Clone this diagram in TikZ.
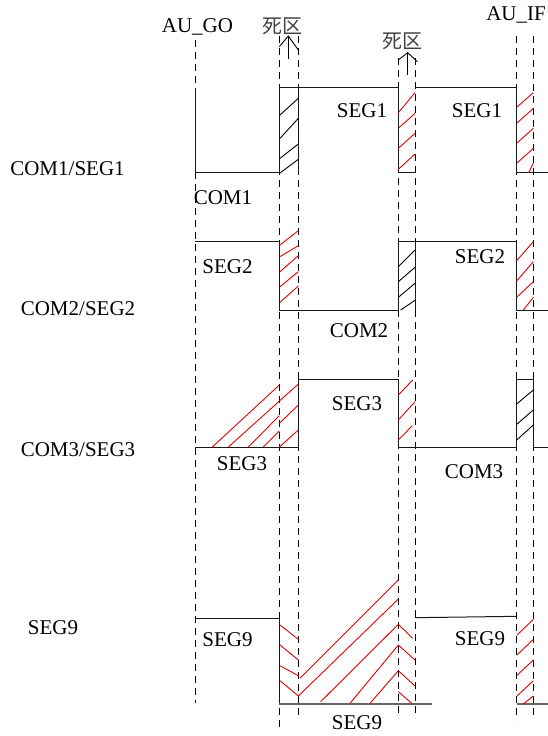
\documentclass[tikz,border=0pt]{standalone}
\usepackage{fontspec}
\setmainfont{Liberation Serif}
\newfontfamily\cjkfont{Noto Sans CJK SC}
\tikzset{
  lbl/.style={inner sep=0pt,font=\fontsize{21}{22}\selectfont},
  cjk/.style={inner sep=0pt,text=black!75,font=\cjkfont\fontsize{20}{20}\selectfont},
  guide/.style={black,line width=0.9pt,dash pattern=on 7pt off 5pt},
  wave/.style={black!90,line width=1pt,line join=miter},
  rail/.style={black!60,line width=1.6pt},
  hr/.style={red!90!black,line width=0.9pt},
  hk/.style={black,line width=0.9pt},
  arrowline/.style={black,line width=0.9pt},
  rowa/.style={shift={(180pt,0pt)},x=0.33333pt,y=-0.33333pt},
  rowb/.style={shift={(180pt,-220pt)},x=0.33333pt,y=-0.33333pt},
  rowc/.style={shift={(180pt,-370pt)},x=0.33333pt,y=-0.33333pt},
  rowd/.style={shift={(180pt,-570pt)},x=0.33333pt,y=-0.33333pt},
}
\begin{document}
\begin{tikzpicture}[x=1pt,y=-1pt]
\useasboundingbox (0,0) rectangle (548,736);
% guides
\draw[guide] (195.3,40) -- (195.3,703);
\draw[guide] (279.5,36) -- (279.5,728);
\draw[guide] (298.3,36) -- (298.3,718);
\draw[guide] (398.3,58) -- (398.3,718);
\draw[guide] (415,58) -- (415,718);
\draw[guide] (516.7,36) -- (516.7,720);
\draw[guide] (533.7,36) -- (533.7,718);
% row 1
\begin{scope}[rowa]
\draw[wave] (46,263) -- (46,519) -- (298,519) -- (298,263) -- (655,263) -- (655,519) -- (705,519);
\draw[wave] (705,263) -- (1010,263) -- (1010,519) -- (1104,519);
\draw[wave] (355,263) -- (355,519);
\foreach \a/\b in {519/478,475/432,415/355,345/295} \draw[hk] (300,\a) -- (355,\b);
\foreach \a/\b in {338/278,385/340,445/400,508/462} \draw[hr] (655,\a) -- (705,\b);
\foreach \a/\b in {322/278,370/325,430/385,490/445} \draw[hr] (1010,\a) -- (1060,\b);
\draw[hr] (1045,519) -- (1060,490);
\draw[arrowline] (325,178) -- (325,108);
\draw[arrowline] (298,140) -- (325,108) -- (355,150);
\draw[arrowline] (683,225) -- (683,158);
\draw[arrowline] (655,180) -- (683,158) -- (712,185);
\end{scope}
% row 2
\begin{scope}[rowb]
\draw[wave] (46,65) -- (298,65) -- (298,270) -- (655,270) -- (655,65) -- (1010,65) -- (1010,270) -- (1104,270);
\draw[wave] (705,65) -- (705,270);
\foreach \a/\b in {75/32,110/77,155/107,200/155,247/198} \draw[hr] (300,\a) -- (355,\b);
\foreach \a/\b in {140/90,185/142,232/190} \draw[hk] (655,\a) -- (705,\b);
\draw[hk] (662,270) -- (705,241);
\foreach \a/\b in {122/65,183/125,232/185} \draw[hr] (1010,\a) -- (1060,\b);
\draw[hr] (1030,270) -- (1060,232);
\end{scope}
% row 3
\begin{scope}[rowc]
\draw[wave] (46,231) -- (355,231) -- (355,27) -- (655,27) -- (655,231) -- (1010,231) -- (1010,8);
\draw[wave] (1010,27) -- (1060,27) -- (1060,231) -- (1104,231);
\draw[hr] (97,231) -- (298,45);
\draw[hr] (145,231) -- (355,42);
\draw[hr] (205,231) -- (298,137);
\draw[hr] (250,231) -- (298,183);
\draw[hr] (298,160) -- (355,105);
\draw[hr] (298,231) -- (355,180);
\draw[hr] (655,75) -- (698,30);
\draw[hr] (655,150) -- (705,95);
\draw[hr] (655,210) -- (697,167);
\foreach \a/\b in {102/60,163/120,210/165} \draw[hk] (1010,\a) -- (1060,\b);
\end{scope}
% row 4
\begin{scope}[rowd]
\draw[wave] (46,145) -- (298,145) -- (298,402);
\draw[rail] (298,402) -- (757,402);
\draw[rail] (1010,402) -- (1104,402);
\draw[wave] (705,143) -- (1010,139);
\foreach \a/\b in {165/208,225/270,287/317,332/378} \draw[hr] (300,\a) -- (355,\b);
\draw[hr] (360,325) -- (655,30);
\draw[hr] (355,378) -- (655,87);
\draw[hr] (422,395) -- (655,163);
\draw[hr] (510,400) -- (655,225);
\draw[hr] (570,400) -- (655,302);
\draw[hr] (655,163) -- (698,205);
\draw[hr] (655,225) -- (705,270);
\draw[hr] (655,302) -- (705,348);
\draw[hr] (655,365) -- (695,400);
\foreach \a/\b in {195/148,255/208,316/270,378/332} \draw[hr] (1011,\a) -- (1060,\b);
\draw[hr] (1030,402) -- (1060,378);
\end{scope}
% labels
\node[lbl] (augo) at (197.5,27) {AU\_GO};
\node[lbl] (auif) at (516,15) {AU\_IF};
\node[cjk] (dz1) at (282,26) {死区};
\node[cjk] (dz2) at (402,41) {死区};
\node[lbl] (s1a) at (362,111) {SEG1};
\node[lbl] (s1b) at (477,111) {SEG1};
\node[lbl] (r1) at (67.5,169) {COM1/SEG1};
\node[lbl] (c1) at (223,198) {COM1};
\node[lbl] (s2a) at (227.5,267) {SEG2};
\node[lbl] (s2b) at (480,257) {SEG2};
\node[lbl] (c2) at (359,331) {COM2};
\node[lbl] (r2) at (78,309) {COM2/SEG2};
\node[lbl] (r3) at (78,450) {COM3/SEG3};
\node[lbl] (s3a) at (242,464) {SEG3};
\node[lbl] (s3b) at (357,404) {SEG3};
\node[lbl] (c3) at (474,472) {COM3};
\node[lbl] (r4) at (53,628) {SEG9};
\node[lbl] (s9a) at (227.5,640) {SEG9};
\node[lbl] (s9b) at (480,639) {SEG9};
\node[lbl] (s9c) at (357,723) {SEG9};
\end{tikzpicture}
\end{document}
